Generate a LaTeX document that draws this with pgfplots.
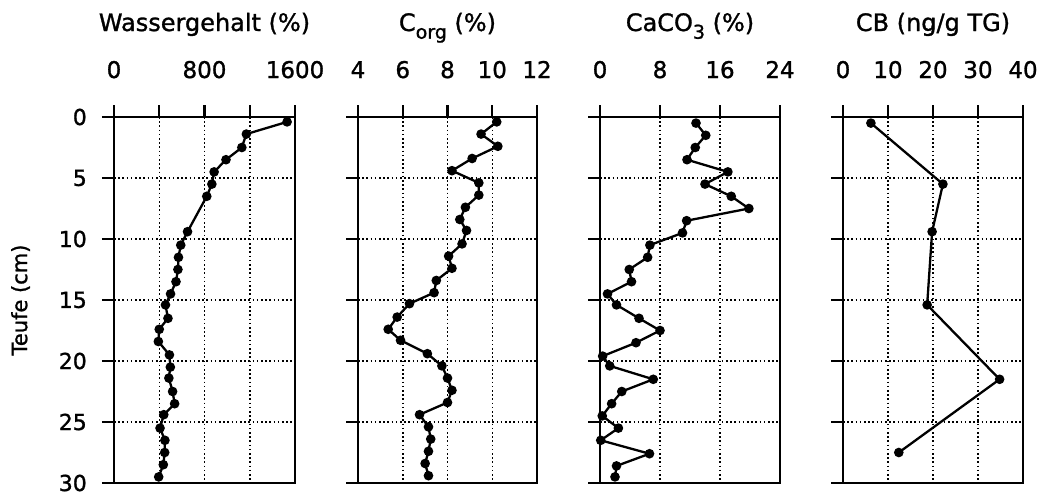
\documentclass[border=0pt]{standalone}
\usepackage{fontspec}
\setmainfont{DejaVu Sans}[FakeBold=1.2]
\usepackage{pgfplots}
\pgfplotsset{compat=1.18}

\newcommand{\tief}[1]{\raisebox{-0.32em}{\fontsize{19}{19}\selectfont #1}}

\pgfplotsset{
  profil/.style={
    scale only axis, height=366pt,
    y dir=reverse, ymin=0, ymax=30,
    ytick={0,5,...,30}, yticklabels={},
    xtick pos=right, xticklabel pos=right,
    ytick pos=left,
    tick align=outside,
    major tick length=12pt,
    every tick/.style={black, line width=2.2pt},
    axis line style={black, line width=2.6pt},
    grid=major,
    major grid style={black, line width=1.5pt, dash pattern=on 1.6pt off 2.6pt},
    /pgf/number format/assume math mode=true,
    xticklabel style={font=\fontsize{23}{23}\selectfont, anchor=base, yshift=27pt},
    title style={at={(0.5,1)}, anchor=base, yshift=80pt, font=\fontsize{24}{24}\selectfont},
    every axis plot post/.append style={black, line width=2.3pt, mark=*, mark size=3.6pt, mark options={solid, fill=black}},
  }
}

\begin{document}
\begin{tikzpicture}
\path[use as bounding box] (0,0) rectangle (1043pt,495pt);

% Wassergehalt
\begin{axis}[profil, at={(114pt,12pt)}, anchor=south west, width=181pt,
    xmin=0, xmax=1600, xtick={0,400,...,1600}, xticklabels={0,,800,,1600},
    yticklabels={0,5,10,15,20,25,30},
    yticklabel style={font=\fontsize{22}{22}\selectfont, anchor=east, inner sep=0pt, xshift=-15pt},
    ylabel={Teufe (cm)},
    ylabel style={at={(axis description cs:-0.48,0.5)}, anchor=base, font=\fontsize{21}{21}\selectfont},
    title={Wassergehalt (\%)}]
\addplot coordinates {
  (1530,0.4) (1170,1.4) (1130,2.5) (990,3.5) (885,4.5) (865,5.5) (820,6.5)
  (650,9.4) (590,10.5) (570,11.5) (565,12.5) (548,13.5) (500,14.5) (455,15.4)
  (477,16.5) (400,17.4) (392,18.4) (490,19.5) (498,20.5) (485,21.4) (518,22.5)
  (536,23.5) (440,24.4) (407,25.5) (450,26.5) (448,27.5) (436,28.5) (395,29.5)
};
\end{axis}

% C org
\begin{axis}[profil, at={(358pt,12pt)}, anchor=south west, width=179pt,
    xmin=4, xmax=12, xtick={4,6,...,12},
    title={C\tief{org} (\%)}]
\addplot coordinates {
  (10.2,0.4) (9.5,1.4) (10.25,2.4) (9.1,3.4) (8.2,4.4) (9.4,5.4) (9.4,6.4)
  (8.8,7.4) (8.55,8.4) (8.85,9.3) (8.65,10.4) (8.05,11.4) (8.2,12.4) (7.5,13.4)
  (7.4,14.4) (6.3,15.3) (5.75,16.4) (5.35,17.4) (5.9,18.3) (7.1,19.4) (7.75,20.4)
  (8.0,21.4) (8.2,22.4) (8.0,23.4) (6.75,24.4) (7.15,25.4) (7.25,26.4) (7.15,27.4)
  (7.0,28.4) (7.15,29.4)
};
\end{axis}

% CaCO3
\begin{axis}[profil, at={(600pt,12pt)}, anchor=south west, width=180pt,
    xmin=0, xmax=24, xtick={0,8,16,24},
    title={CaCO\tief{3} (\%)}]
\addplot coordinates {
  (12.8,0.5) (14.1,1.5) (12.7,2.5) (11.6,3.5) (17.05,4.5) (14.0,5.5) (17.5,6.5)
  (19.85,7.5) (11.55,8.5) (11.0,9.5) (6.65,10.5) (6.35,11.5) (3.9,12.5) (4.2,13.5)
  (1.0,14.5) (2.2,15.4) (5.2,16.5) (8.0,17.5) (4.8,18.5) (0.35,19.6) (1.3,20.4)
  (7.1,21.5) (2.9,22.5) (1.55,23.5) (0.3,24.5) (2.45,25.5) (0.1,26.5) (6.6,27.6)
  (2.2,28.6) (2.0,29.5)
};
\end{axis}

% CB
\begin{axis}[profil, at={(843pt,12pt)}, anchor=south west, width=180pt,
    xmin=0, xmax=40, xtick={0,10,...,40},
    title={CB (ng/g TG)}]
\addplot coordinates {
  (6.2,0.5) (22.2,5.5) (19.8,9.4) (18.7,15.4) (34.8,21.5) (12.4,27.5)
};
\end{axis}
\end{tikzpicture}
\end{document}
